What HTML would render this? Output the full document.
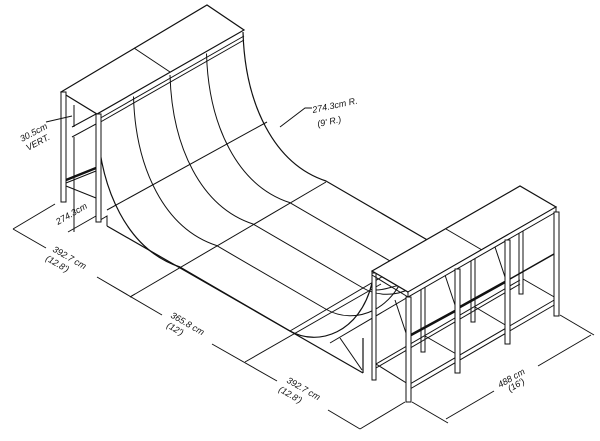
<!DOCTYPE html>
<html><head><meta charset="utf-8"><style>
html,body{margin:0;padding:0;background:#fff;}
svg{display:block;}
text{font-family:"Liberation Sans",sans-serif;font-style:italic;font-size:9px;fill:#111;}
</style></head><body>
<svg width="600" height="441" viewBox="0 0 600 441" xmlns="http://www.w3.org/2000/svg">
<defs>
<path id="edge" d="M97,118 C99,190 128,250 180,267 L290,331 C318,347 360,333 372,283" fill="none"/>
</defs>
<g stroke="#111" fill="none" stroke-width="1">
<use href="#edge" stroke-width="1.2"/>
<use href="#edge" transform="translate(36.5,-21.5)"/>
<use href="#edge" transform="translate(73,-43)"/>
<use href="#edge" transform="translate(109.5,-64.5)"/>
<use href="#edge" transform="translate(146,-86)" stroke-width="1.2"/>
<line x1="107" y1="210" x2="267" y2="122"/>
<line x1="130" y1="297" x2="326" y2="182"/>
<line x1="245" y1="362" x2="381" y2="284"/>
<line x1="290" y1="331" x2="436" y2="245"/>
<line x1="330" y1="343" x2="476" y2="257"/>
<line x1="107" y1="226" x2="363" y2="373" stroke-width="1.2"/>
<polyline points="97,222 107,216 107,226"/>
<line x1="363" y1="338" x2="363" y2="373" stroke-width="1.2"/>
<line x1="340" y1="338" x2="362" y2="370"/>
<!-- left platform -->
<polygon points="61,92 207,5 244,30 97,114" fill="#fff" stroke-width="1.2"/>
<line x1="134" y1="48" x2="170" y2="72"/>
<line x1="97" y1="120" x2="244" y2="36"/>
<line x1="97" y1="124" x2="244" y2="40"/>
<rect x="61" y="92" width="5" height="110" fill="#fff"/>
<rect x="96" y="114" width="5" height="108" fill="#fff"/>
<line x1="66" y1="180" x2="96" y2="168" stroke-width="2.5"/>
<line x1="66" y1="186" x2="96" y2="198"/>
<line x1="66" y1="183" x2="96" y2="171"/>
<line x1="74" y1="105" x2="74" y2="127"/>
<line x1="74" y1="137" x2="74" y2="232"/>
<line x1="72" y1="127" x2="96" y2="114"/>
<line x1="72" y1="137" x2="96" y2="124"/>
<line x1="68" y1="232" x2="96" y2="216"/>
<line x1="46" y1="122" x2="72" y2="116"/>
<polyline points="280,127 305,108 312,108"/>
<!-- bottom dimension with gaps -->
<line x1="13" y1="229" x2="46" y2="248"/>
<line x1="97" y1="277" x2="162" y2="315"/>
<line x1="212" y1="344" x2="277" y2="381"/>
<line x1="328" y1="410" x2="360" y2="429"/>
<line x1="13" y1="229" x2="55" y2="204"/>
<line x1="360" y1="429" x2="405" y2="402"/>
<line x1="130" y1="297" x2="135" y2="294"/>
<!-- right dimension -->
<line x1="412" y1="402" x2="448" y2="423"/>
<line x1="560" y1="315" x2="594" y2="335"/>
<line x1="446" y1="419" x2="494" y2="391"/>
<line x1="538" y1="366" x2="591" y2="335"/>
</g>
<g stroke="#111" fill="none" stroke-width="1">
<rect x="372" y="273" width="4" height="107" fill="#fff"/>
<rect x="421" y="246" width="4" height="106" fill="#fff"/>
<rect x="471" y="218" width="4" height="104" fill="#fff"/>
<rect x="519" y="190" width="4" height="104" fill="#fff"/>
<line x1="376" y1="364" x2="520" y2="280"/>
<line x1="376" y1="368" x2="520" y2="284"/>
<line x1="410" y1="384" x2="556" y2="299"/>
<line x1="410" y1="389" x2="556" y2="304"/>
<line x1="376" y1="364" x2="408" y2="384"/>
<line x1="425" y1="336" x2="458" y2="355"/>
<line x1="475" y1="307" x2="507" y2="326"/>
<line x1="523" y1="279" x2="556" y2="298"/>
<line x1="411" y1="335" x2="455" y2="311" stroke-width="2.5"/>
<line x1="460" y1="307" x2="505" y2="282" stroke-width="2.5"/>
<line x1="510" y1="279" x2="554" y2="254" stroke-width="1.5"/>
<path d="M376,290 C395,290 405,275 410,300"/>
<path d="M425,262 C444,262 454,247 459,272"/>
<path d="M475,234 C494,234 504,219 509,244"/>
<line x1="395" y1="300" x2="410" y2="345"/>
<line x1="444" y1="272" x2="459" y2="317"/>
<line x1="494" y1="244" x2="509" y2="289"/>
<polygon points="372,271 408,292 556,207 520,186" fill="#fff" stroke-width="1.2"/>
<line x1="446" y1="229" x2="482" y2="250"/>
<polygon points="408,292 556,207 556,212 408,297" fill="#fff"/>
<line x1="372" y1="271" x2="372" y2="275"/>
<line x1="372" y1="275" x2="408" y2="297"/>
<rect x="406" y="297" width="5" height="105" fill="#fff"/>
<rect x="455" y="269" width="5" height="104" fill="#fff"/>
<rect x="505" y="240" width="5" height="104" fill="#fff"/>
<rect x="554" y="212" width="5" height="104" fill="#fff"/>
</g>
<text transform="translate(22,142) rotate(-28)">30.5cm</text>
<text transform="translate(28,151) rotate(-28)">VERT.</text>
<text transform="translate(58,225) rotate(-30)">274.3cm</text>
<text transform="translate(313,113) rotate(-12)">274.3cm R.</text>
<text transform="translate(318,127) rotate(-12)">(9' R.)</text>
<text transform="translate(52,251) rotate(30)">392.7 cm</text>
<text transform="translate(45,260) rotate(30)">(12.8')</text>
<text transform="translate(170,317) rotate(30)">365.8 cm</text>
<text transform="translate(166,327) rotate(30)">(12')</text>
<text transform="translate(286,382) rotate(30)">392.7 cm</text>
<text transform="translate(278,391) rotate(30)">(12.8')</text>
<text transform="translate(500,388) rotate(-30)">488 cm</text>
<text transform="translate(510,392) rotate(-30)">(16')</text>
</svg>
</body></html>
